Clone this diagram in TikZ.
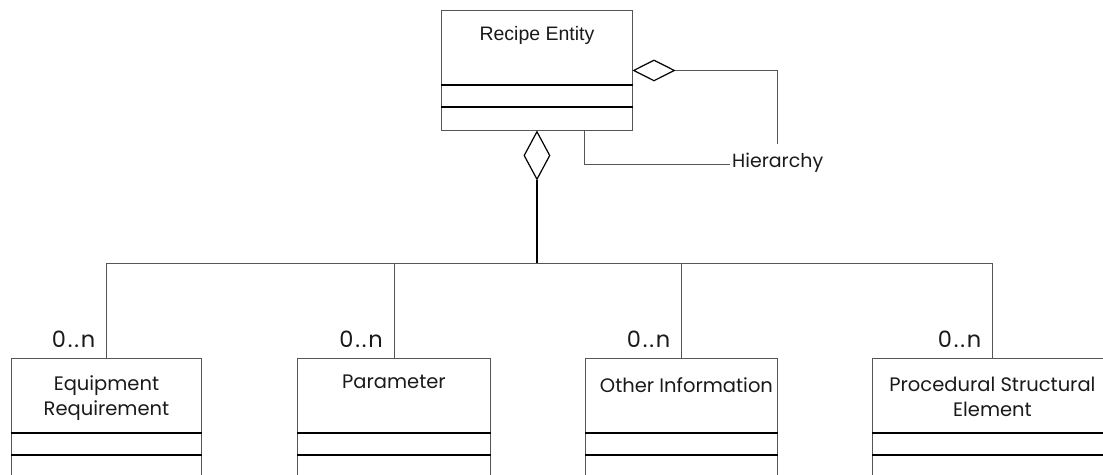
\documentclass[tikz,border=0pt]{standalone}
\usepackage{fontspec}
\usetikzlibrary{shapes.geometric,calc}
\newfontfamily\gothic{Poppins}
\newfontfamily\gothicwide{Poppins}[LetterSpace=8]
\newfontfamily\arialf{Liberation Sans}
\definecolor{edge}{HTML}{555555}
\definecolor{ink}{HTML}{1A1A1A}
\tikzset{
  classbox/.style={draw=edge, line width=0.9pt, rectangle, inner sep=0pt,
    anchor=north west, minimum height=120pt},
  divider/.style={draw=black, line width=1.6pt},
  link/.style={draw=edge, line width=0.9pt},
  strong/.style={draw=black, line width=2.4pt},
  agg/.style={draw=black, line width=1.2pt, diamond, inner sep=0pt, fill=white},
  title/.style={font=\gothic\fontsize{19.5}{25}\selectfont, text=ink,
    inner sep=0pt, align=center, anchor=north},
  mult/.style={font=\gothicwide\fontsize{22.5}{25}\selectfont, text=ink,
    inner sep=0pt, anchor=base east},
}
\begin{document}
\begin{tikzpicture}[x=1pt,y=-1pt]
\useasboundingbox (0,0) rectangle (1103,474);
\clip (0,0) rectangle (1103,474);

% class boxes
\node[classbox, minimum width=191pt] (re) at (441,10) {};
\node[classbox, minimum width=190pt] (eq) at (11,358) {};
\node[classbox, minimum width=193pt] (pa) at (297,358) {};
\node[classbox, minimum width=192pt] (ot) at (585,358) {};
\node[classbox, minimum width=240pt] (pr) at (872,358) {};

% compartment separators
\foreach \b in {re,eq,pa,ot,pr}{
  \draw[divider] ([yshift=-75pt]\b.north west) -- ([yshift=-75pt]\b.north east);
  \draw[divider] ([yshift=-97pt]\b.north west) -- ([yshift=-97pt]\b.north east);
}

% class names
\node[title, font=\arialf\fontsize{19.5}{24}\selectfont] (ret) at ([yshift=-16pt]re.north) {Recipe Entity};
\node[title] (eqt) at ([yshift=-17pt]eq.north) {Equipment\\Requirement};
\node[title] (pat) at ([yshift=-17pt]pa.north) {Parameter};
\node[title] (ott) at ([xshift=5pt,yshift=-19pt]ot.north) {Other Information};
\node[title] (prt) at ([yshift=-19pt]pr.north) {Procedural Structural\\Element};

% aggregation diamonds
\node[agg, minimum width=26pt, minimum height=48pt, anchor=north] (comp) at (re.south) {};
\node[agg, minimum width=41pt, minimum height=21pt, anchor=west] (self) at (re.east) {};

% composition tree
\coordinate (bus) at ($(comp.south)+(0,83)$);
\draw[strong] (comp.south) -- (bus);
\draw[link] (eq.north) |- (bus) -| (pr.north);
\draw[link] (pa.north) -- (pa.north |- bus);
\draw[link] (ot.north) -- (ot.north |- bus);

% multiplicities
\foreach \b/\n in {eq/m1,pa/m2,ot/m3,pr/m4}
  \node[mult] (\n) at ([xshift=-11pt,yshift=11pt]\b.north) {0..n};

% recursive hierarchy association
\node[font=\gothic\fontsize{19}{24}\selectfont, text=ink, inner sep=0pt, anchor=base west]
  (hier) at (732,167) {Hierarchy};
\draw[link] (self.east) -| ([yshift=8pt]hier.north);
\draw[link] ([xshift=47.5pt]re.south) |- ([xshift=-2pt,yshift=3pt]hier.base west);
\end{tikzpicture}
\end{document}
